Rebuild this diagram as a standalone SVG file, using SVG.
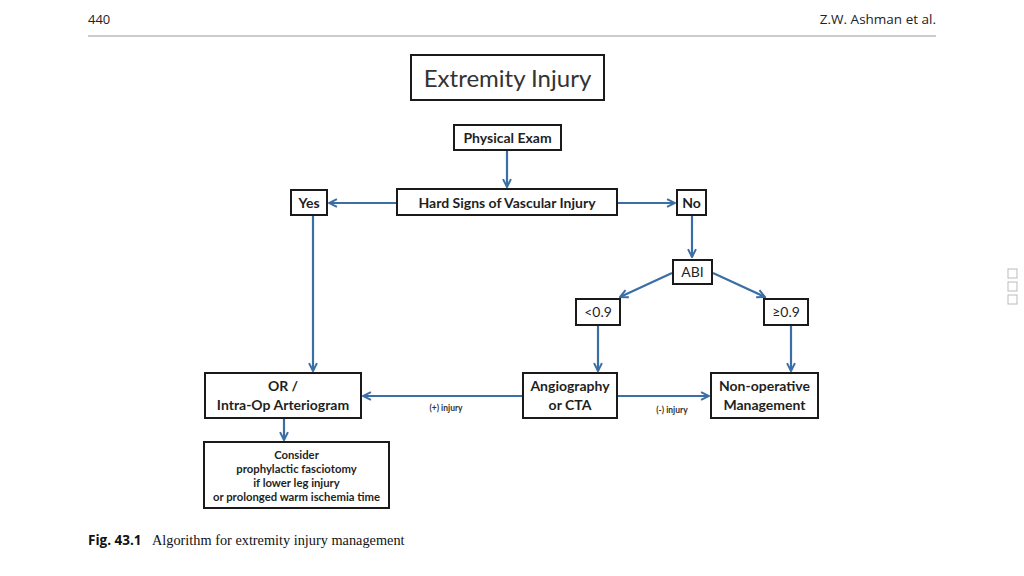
<svg xmlns="http://www.w3.org/2000/svg" width="1024" height="576" viewBox="0 0 1024 576">
<style>
.box{fill:#fff;stroke:#1a1a1a;stroke-width:2}
.t{font-family:Lato,"Open Sans","Liberation Sans",sans-serif;font-weight:bold;fill:#1f1f1f;text-anchor:middle;font-size:14px}
.s{font-size:11.3px}
.c{stroke:#3a6ea5;stroke-width:2.2;fill:none;marker-end:url(#ah)}
.lbl{font-family:Lato,"Liberation Sans",sans-serif;font-size:8.5px;fill:#333;text-anchor:middle;font-weight:bold}
.hdr{font-family:"Open Sans","Liberation Sans",sans-serif;font-size:13px;fill:#222}
</style>
<defs>
<marker id="ah" viewBox="0 0 10 10" refX="9" refY="5" markerWidth="4.5" markerHeight="4.5" orient="auto" markerUnits="strokeWidth">
<path d="M1,1 L9,5 L1,9" fill="none" stroke="#3a6ea5" stroke-width="2"/>
</marker>
</defs>
<rect width="1024" height="576" fill="#fff"/>
<g id="header">
<text class="hdr" x="88" y="24">440</text>
<text class="hdr" x="936" y="24" text-anchor="end" style="font-size:13.5px">Z.W. Ashman et al.</text>
<line x1="88" y1="36" x2="936" y2="36" stroke="#999" stroke-width="1.2"/>
</g>
<g id="connectors">
<path class="c" d="M507,151 V187"/>
<path class="c" d="M396,203 H329"/>
<path class="c" d="M618,203 H675"/>
<path class="c" d="M313,216 V371"/>
<path class="c" d="M692,216 V257"/>
<path class="c" d="M672,273 L620,297"/>
<path class="c" d="M713,273 L765,297"/>
<path class="c" d="M598,326 V371"/>
<path class="c" d="M791,326 V371"/>
<path class="c" d="M522,396 H363"/>
<path class="c" d="M618,396 H709"/>
<path class="c" d="M284,419 V440"/>
<text class="lbl" x="446" y="411">(+) injury</text>
<text class="lbl" x="672" y="413">(-) injury</text>
</g>
<g id="title"><rect class="box" x="411" y="55" width="193" height="45"/><text class="t" x="507.5" y="86.5" style="font-weight:normal;font-size:24px;fill:#333">Extremity Injury</text></g>
<g id="physical"><rect class="box" x="454" y="125" width="107" height="25"/><text class="t" x="507.5" y="142.5">Physical Exam</text></g>
<g id="hard"><rect class="box" x="397" y="189" width="220" height="26"/><text class="t" x="507" y="207.5">Hard Signs of Vascular Injury</text></g>
<g id="yes"><rect class="box" x="291" y="190" width="36" height="25"/><text class="t" x="309" y="207.5">Yes</text></g>
<g id="no"><rect class="box" x="677" y="190" width="29" height="25"/><text class="t" x="691.5" y="207.5">No</text></g>
<g id="abi"><rect class="box" x="673" y="260" width="39" height="24"/><text class="t" x="692.5" y="276.5" style="font-weight:normal">ABI</text></g>
<g id="lt"><rect class="box" x="576" y="299" width="44" height="26"/><text class="t" x="598" y="316.5" style="font-weight:normal">&lt;0.9</text></g>
<g id="ge"><rect class="box" x="764" y="299" width="44" height="26"/><text class="t" x="786" y="316.5" style="font-weight:normal">≥0.9</text></g>
<g id="or"><rect class="box" x="205" y="373" width="156" height="45"/><text class="t" x="283" y="391">OR /</text><text class="t" x="283" y="410">Intra-Op Arteriogram</text></g>
<g id="angio"><rect class="box" x="523" y="373" width="94" height="45"/><text class="t" x="570" y="391">Angiography</text><text class="t" x="570" y="410">or CTA</text></g>
<g id="nonop"><rect class="box" x="711" y="373" width="107" height="45"/><text class="t" x="764.5" y="391">Non-operative</text><text class="t" x="764.5" y="410">Management</text></g>
<g id="consider"><rect class="box" x="204" y="442" width="185" height="66"/>
<text class="t s" x="296.5" y="459">Consider</text>
<text class="t s" x="296.5" y="473">prophylactic fasciotomy</text>
<text class="t s" x="296.5" y="487">if lower leg injury</text>
<text class="t s" x="296.5" y="501">or prolonged warm ischemia time</text></g>
<g id="caption"><text x="88" y="545" style="font-family:'Open Sans','Liberation Sans',sans-serif;font-weight:bold;font-size:13.5px;fill:#111">Fig. 43.1</text><text x="152" y="545" style="font-family:'Liberation Serif',serif;font-size:14.3px;fill:#111">Algorithm for extremity injury management</text></g>
<g id="sidebar" fill="#fff" stroke="#bbb" stroke-width="1">
<rect x="1008" y="269" width="9" height="9"/><rect x="1008" y="282" width="9" height="9"/><rect x="1008" y="295" width="9" height="9"/>
</g>
</svg>
